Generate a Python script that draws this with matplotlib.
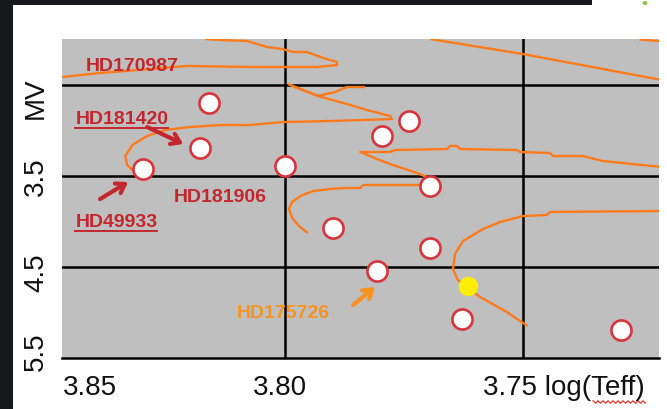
import numpy as np
import matplotlib
matplotlib.use("Agg")
import matplotlib.pyplot as plt
from matplotlib.patches import Rectangle, Ellipse
from matplotlib.lines import Line2D

plt.rcParams['font.family'] = ['Liberation Sans', 'DejaVu Sans']

# observed stars: log(Teff), MV
star_logt = [3.8160, 3.8179, 3.8298, 3.8000, 3.7796, 3.7740,
             3.7695, 3.7899, 3.7695, 3.7807, 3.7628, 3.7294]
star_mv = [2.702, 3.196, 3.426, 3.393, 3.064, 2.900,
           3.613, 4.074, 4.293, 4.546, 5.072, 5.193]

# the Sun
sun_logt = [3.7616]
sun_mv = [4.710]

# evolutionary tracks (log Teff, MV)
track_a_t = [3.8468, 3.8389, 3.8284, 3.8206, 3.8074, 3.7933, 3.7891, 3.7891,
             3.7920, 3.7954, 3.7983, 3.8006, 3.8038, 3.8080, 3.8137, 3.8168]
track_a_m = [2.417, 2.373, 2.329, 2.296, 2.307, 2.307, 2.285, 2.252,
             2.208, 2.143, 2.143, 2.110, 2.088, 2.022, 2.011, 2.000]

track_b1_t = [3.7832, 3.7870, 3.7895, 3.7931, 3.7968, 3.7994]
track_b1_m = [2.527, 2.527, 2.582, 2.625, 2.549, 2.494]

track_b2_t = [3.7985, 3.7931, 3.7863, 3.7828, 3.7779, 3.7775, 3.7905, 3.8004,
              3.8074, 3.8137, 3.8200, 3.8252, 3.8290, 3.8321, 3.8336, 3.8332,
              3.8319]
track_b2_m = [2.516, 2.625, 2.724, 2.779, 2.845, 2.878, 2.900, 2.911,
              2.944, 2.944, 2.966, 2.998, 3.064, 3.163, 3.284, 3.382,
              3.448]

track_c_t = [3.7208, 3.7332, 3.7374, 3.7437, 3.7443, 3.7506, 3.7513, 3.7632,
             3.7639, 3.7653, 3.7660, 3.7769, 3.7779, 3.7842, 3.7807, 3.7779,
             3.7723, 3.7702, 3.7695]
track_c_m = [3.404, 3.339, 3.284, 3.284, 3.251, 3.240, 3.218, 3.207,
             3.174, 3.174, 3.207, 3.218, 3.240, 3.240, 3.317, 3.372,
             3.470, 3.514, 3.580]

track_d_t = [3.7700, 3.7836, 3.7842, 3.7878, 3.7905, 3.7941, 3.7968, 3.7985,
             3.7992, 3.7985, 3.7971, 3.7952]
track_d_m = [3.602, 3.602, 3.635, 3.635, 3.646, 3.668, 3.723, 3.788,
             3.865, 3.964, 4.052, 4.129]

track_e_t = [3.7208, 3.7443, 3.7450, 3.7500, 3.7548, 3.7584, 3.7626, 3.7643,
             3.7647, 3.7637, 3.7616, 3.7590, 3.7534, 3.7490]
track_e_m = [3.887, 3.898, 3.931, 3.942, 4.008, 4.085, 4.216, 4.359,
             4.524, 4.644, 4.732, 4.831, 4.995, 5.149]

track_f_t = [3.7695, 3.7500, 3.7208]
track_f_m = [2.000, 2.165, 2.450]

track_g_t = [3.7255, 3.7208]
track_g_m = [2.005, 2.025]

tracks = [(track_a_t, track_a_m), (track_b1_t, track_b1_m),
          (track_b2_t, track_b2_m), (track_c_t, track_c_m),
          (track_d_t, track_d_m), (track_e_t, track_e_m),
          (track_f_t, track_f_m), (track_g_t, track_g_m)]

# star names: (text, log Teff of left edge, MV, colour, underline)
labels = [("HD170987", 3.8420, 2.296, 'dark', False),
          ("HD181420", 3.8441, 2.867, 'dark', True),
          ("HD181906", 3.8235, 3.723, 'dark', False),
          ("HD49933", 3.8441, 3.997, 'dark', True),
          ("HD175726", 3.8101, 5.006, 'light', False)]

# arrows: start -> end, colour
arrows = [((3.8290, 2.966), (3.8214, 3.152), 'dark'),
          ((3.8389, 3.756), (3.8330, 3.569), 'dark'),
          ((3.7857, 4.919), (3.7811, 4.721), 'light')]

colors = {'dark': '#c4262e', 'light': '#f7931e'}
track_color = '#ff7a1a'

W, H = 667, 410
fig = plt.figure(figsize=(W / 100, H / 100), dpi=100, facecolor='#16181b')

# white slide behind the chart
fig.patches.append(Rectangle((13 / W, 0), 1, (H - 6) / H, transform=fig.transFigure,
                             facecolor='white', edgecolor='none', zorder=-2))
fig.patches.append(Rectangle((592 / W, 0), 1, 1, transform=fig.transFigure,
                             facecolor='white', edgecolor='none', zorder=-2))
fig.patches.append(Ellipse((645 / W, 1 - 4 / H), 5 / W, 4 / H, transform=fig.transFigure,
                           facecolor='#8cc63f', edgecolor='none', zorder=-1))

ax = fig.add_axes([62 / W, 51 / H, 597 / W, 319 / H])
ax.set_zorder(1)
ax.set_facecolor('#bfbfbf')
ax.set_xlim(3.8469, 3.7214)
ax.set_ylim(5.5, 2.0)

for s in ['left', 'right', 'top']:
    ax.spines[s].set_visible(False)
ax.spines['bottom'].set_color('black')
ax.spines['bottom'].set_linewidth(1.8)
ax.set_xticks([])
ax.set_yticks([])

for xv in [3.80, 3.75]:
    ax.axvline(xv, color='black', lw=1.8, zorder=1)
for yv in [2.5, 3.5, 4.5]:
    ax.axhline(yv, color='black', lw=1.8, zorder=1)

for tt, mm in tracks:
    ax.plot(tt, mm, color=track_color, lw=1.7, zorder=2, solid_capstyle='butt')

ax.plot(star_logt, star_mv, 'o', ms=14.5, mfc='white', mec='#d8343c', mew=1.9,
        zorder=4, linestyle='none')
ax.plot(sun_logt, sun_mv, 'o', ms=13, mfc='#ffee00', mec='#ffee00', zorder=4)

texts = []
for name, xt, yt, c, ul in labels:
    t = ax.text(xt, yt, name, color=colors[c], fontsize=14, fontweight='bold',
                ha='left', va='center', zorder=5)
    texts.append((t, ul, colors[c]))

for (x0, y0), (x1, y1), c in arrows:
    ax.annotate('', xy=(x1, y1), xytext=(x0, y0),
                arrowprops=dict(arrowstyle='->,head_length=0.6,head_width=0.4',
                                color=colors[c], lw=3.0, shrinkA=0, shrinkB=0),
                zorder=5)

# axis labels set as slide text
tick_kw = dict(fontsize=20, color='#111111')
fig.text(36 / W, 1 - 98 / H, 'MV', rotation=90, ha='center', va='center', **tick_kw)
fig.text(36 / W, 1 - 177 / H, '3.5', rotation=90, ha='center', va='center', **tick_kw)
fig.text(36 / W, 1 - 273 / H, '4.5', rotation=90, ha='center', va='center', **tick_kw)
fig.text(36 / W, 1 - 352 / H, '5.5', rotation=90, ha='center', va='center', **tick_kw)
fig.text(90 / W, 1 - 388 / H, '3.85', ha='center', va='center', **tick_kw)
fig.text(280 / W, 1 - 388 / H, '3.80', ha='center', va='center', **tick_kw)
fig.text(483 / W, 1 - 388 / H, '3.75 log(Teff)', ha='left', va='center', **tick_kw)

# spell-check squiggle under "Teff"
zx = np.arange(593, 646, 2.5)
zy = 403 + np.where(np.arange(len(zx)) % 2 == 0, -1.2, 1.2)
fig.lines.append(Line2D(zx / W, 1 - zy / H, transform=fig.transFigure,
                        color='#e8332a', lw=0.9))

# underline selected star names
fig.canvas.draw()
for t, ul, c in texts:
    if not ul:
        continue
    bb = t.get_window_extent()
    yline = bb.y0 - 1
    fig.lines.append(Line2D([bb.x0 / W, bb.x1 / W], [yline / H, yline / H],
                            transform=fig.transFigure, color=c, lw=1.4, zorder=6))

fig.savefig('out.png', dpi=100, facecolor=fig.get_facecolor())
